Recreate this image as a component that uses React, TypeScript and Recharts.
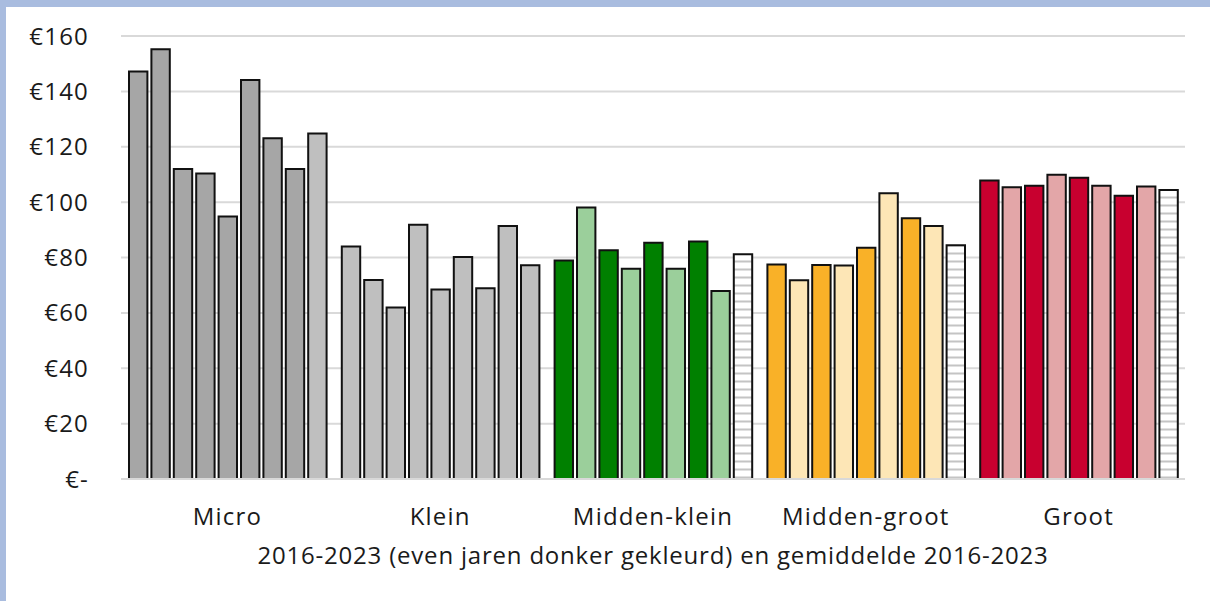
import { Bar, BarChart, CartesianGrid, Cell, Label, XAxis, YAxis } from "recharts";

const CATEGORIES = ["Micro", "Klein", "Midden-klein", "Midden-groot", "Groot"];
const SERIES = ["2016", "2017", "2018", "2019", "2020", "2021", "2022", "2023", "gemiddelde"];

// 2016 ... 2023, then the 2016-2023 average
const MICRO = [147.2, 155.2, 112.0, 110.3, 94.8, 144.1, 123.1, 112.0, 124.8];
const KLEIN = [84.0, 71.9, 61.9, 91.8, 68.4, 80.2, 68.9, 91.4, 77.2];
const MIDDEN_KLEIN = [78.9, 98.1, 82.6, 75.9, 85.3, 75.9, 85.8, 67.9, 81.2];
const MIDDEN_GROOT = [77.5, 71.8, 77.3, 77.1, 83.5, 103.2, 94.2, 91.4, 84.4];
const GROOT = [107.8, 105.4, 105.9, 109.9, 108.8, 105.9, 102.3, 105.6, 104.4];

const Y_TICKS = [0, 20, 40, 60, 80, 100, 120, 140, 160];

const AXIS_TITLE = "2016-2023 (even jaren donker gekleurd) en gemiddelde 2016-2023";

// dark (even years), light (odd years), average
const COLORS = [
  ["#a6a6a6", "#a6a6a6", "#bfbfbf"],
  ["#bfbfbf", "#bfbfbf", "#bfbfbf"],
  ["#008000", "#9bcf9b", "url(#hatch)"],
  ["#f9b128", "#fde6b6", "url(#hatch)"],
  ["#c8002f", "#e3a6a8", "url(#hatch)"],
];

const VALUES = [MICRO, KLEIN, MIDDEN_KLEIN, MIDDEN_GROOT, GROOT];

const data = CATEGORIES.map((name, ci) => {
  const row: Record<string, string | number> = { name };
  SERIES.forEach((s, si) => {
    row[s] = VALUES[ci][si];
  });
  return row;
});

function fillFor(ci: number, si: number) {
  if (si === SERIES.length - 1) return COLORS[ci][2];
  return si % 2 === 0 ? COLORS[ci][0] : COLORS[ci][1];
}

const FONT = "'Open Sans', sans-serif";
const TEXT = "#1a1a1a";

export default function App() {
  return (
    <div
      style={{
        position: "absolute",
        left: 0,
        top: 0,
        width: 1210,
        height: 601,
        background: "#a9bcdf",
        fontFamily: FONT,
      }}
    >
      <div
        style={{
          position: "absolute",
          left: 6,
          top: 7,
          width: 1204,
          height: 594,
          background: "#ffffff",
        }}
      />
      <div style={{ position: "absolute", left: 0, top: 0 }}>
        <BarChart
          width={1210}
          height={601}
          data={data}
          margin={{ top: 36, right: 25, bottom: 34, left: 0 }}
          barSize={18.4}
          barGap={4}
        >
          <defs>
            <pattern id="hatch" patternUnits="userSpaceOnUse" width={8} height={8}>
              <rect x={0} y={0} width={8} height={8} fill="#ffffff" />
              <rect x={0} y={4.5} width={8} height={2} fill="#c4c4c4" />
            </pattern>
          </defs>
          <CartesianGrid vertical={false} stroke="#d9d9d9" strokeWidth={2} />
          <XAxis
            dataKey="name"
            height={88}
            tickLine={false}
            tickSize={0}
            tickMargin={29}
            axisLine={{ stroke: "#d9d9d9", strokeWidth: 2 }}
            tick={{ fill: TEXT, fontSize: 24, fontFamily: FONT, letterSpacing: 1.2 }}
          >
            <Label
              value={AXIS_TITLE}
              position="insideBottom"
              offset={3}
              fill={TEXT}
              fontSize={24}
              fontFamily={FONT}
              letterSpacing={0.8}
            />
          </XAxis>
          <YAxis
            width={121}
            domain={[0, 160]}
            ticks={Y_TICKS}
            interval={0}
            tickLine={false}
            axisLine={false}
            tickSize={0}
            tickMargin={32}
            tickFormatter={(v: number) => (v === 0 ? "€-" : `€${v}`)}
            tick={{ fill: TEXT, fontSize: 24, fontFamily: FONT, letterSpacing: 1.2 }}
          />
          {SERIES.map((s, si) => (
            <Bar
              key={s}
              dataKey={s}
              stroke="#111111"
              strokeWidth={2}
              isAnimationActive={false}
            >
              {data.map((row, ci) => (
                <Cell key={String(row.name)} fill={fillFor(ci, si)} />
              ))}
            </Bar>
          ))}
        </BarChart>
      </div>
    </div>
  );
}
